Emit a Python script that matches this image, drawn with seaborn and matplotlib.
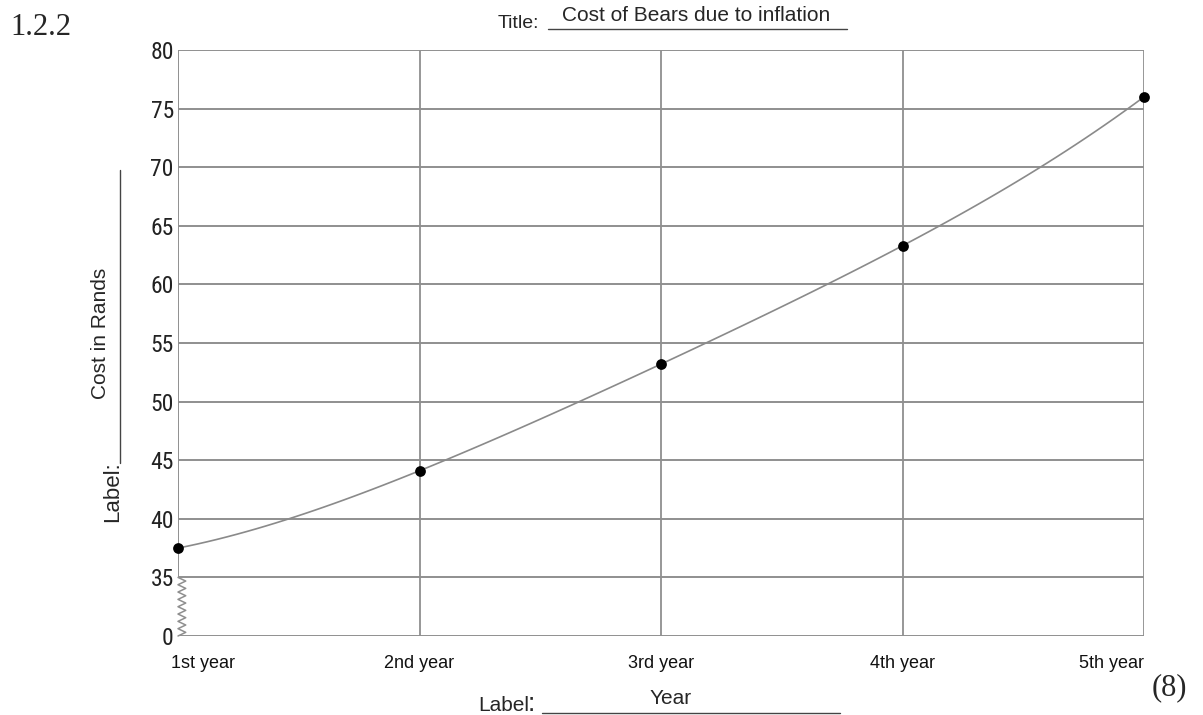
import warnings
warnings.filterwarnings("ignore")
import numpy as np
import pandas as pd
import matplotlib as mpl
mpl.use('Agg')
import matplotlib.pyplot as plt
import matplotlib.transforms as mtransforms
from matplotlib.lines import Line2D
from matplotlib import font_manager
import seaborn as sns

#========================================================================================
# data
years = ['1st year', '2nd year', '3rd year', '4th year', '5th year']
cost = [37.5, 44.1, 53.2, 63.3, 76.0]
y_ticks = [35, 40, 45, 50, 55, 60, 65, 70, 75, 80]
# the axis is broken between 0 and 35; "0" sits one grid step below 35
y_zero_pos = 30

df = pd.DataFrame({'pos': np.arange(len(years)), 'cost': cost})

#========================================================================================
sns.set_style('white')
plt.rcParams['font.family'] = ['Liberation Sans', 'DejaVu Sans']

# narrow face for the y numbers, if one is around
names = {f.name for f in font_manager.fontManager.ttflist}
narrow = 'Liberation Sans'
for cand in ['Arial Narrow', 'Liberation Sans Narrow', 'Roboto Condensed', 'Archivo Narrow',
             'PT Sans Narrow', 'Pragati Narrow', 'Open Sans Condensed']:
    if cand in names:
        narrow = cand
        break

grid_col = '#8f8f8f'

fig = plt.figure(figsize=(12.03, 7.15), dpi=100)
ax = fig.add_axes([178/1203, 1-636/715, (1144-178)/1203, (636-50)/715])

# grid
for yv in [y_zero_pos] + y_ticks:
    ax.axhline(yv, color=grid_col, lw=1.4, zorder=1)
for i in range(1, len(years)):
    ax.axvline(i, color=grid_col, lw=1.3, zorder=1)
# first vertical only above the break
ax.axvline(0, ymin=(35 - y_zero_pos)/(80 - y_zero_pos), ymax=1, color=grid_col, lw=1.4, zorder=1)

# zigzag break between 0 and 35
trans = mtransforms.blended_transform_factory(ax.transAxes, ax.transData)
n_zz = 17
zz_y = np.linspace(y_zero_pos, 35, n_zz)
zz_x = np.where(np.arange(n_zz) % 2 == 0, 0.0, 0.008)
zz_x[0] = 0.0
zz_x[-1] = 0.0
ax.plot(zz_x, zz_y, color=grid_col, lw=1.1, transform=trans, clip_on=False, zorder=1)

# curve and points
sns.regplot(data=df, x='pos', y='cost', order=4, ci=None, scatter=False,
            line_kws=dict(color='#8a8a8a', lw=1.2, zorder=2), ax=ax)
sns.scatterplot(data=df, x='pos', y='cost', color='black', s=60, edgecolor='black',
                linewidth=0, zorder=5, clip_on=False, ax=ax)

ax.set_xlim(0, len(years) - 1)
ax.set_ylim(y_zero_pos, 80)
for s in ax.spines.values():
    s.set_visible(False)
ax.set_xlabel('')
ax.set_ylabel('')

ax.set_yticks([y_zero_pos] + y_ticks)
ax.set_yticklabels(['0'] + [str(v) for v in y_ticks], fontsize=17,
                   fontfamily=narrow, color='#222222')
ax.set_xticks(range(len(years)))
ax.set_xticklabels(years, fontsize=13, color='#111111')
ax.tick_params(axis='y', length=0, pad=3)
ax.tick_params(axis='x', length=0, pad=14)
xl = ax.get_xticklabels()
xl[0].set_ha('left')
xl[0].set_transform(xl[0].get_transform() + mtransforms.ScaledTranslation(-5/72, 0, fig.dpi_scale_trans))
xl[-1].set_ha('right')

# worksheet texts
fig.text(10/1203, 1-35/715, '1.2.2', fontsize=22, fontfamily='Liberation Serif', va='baseline')
fig.text(498/1203, 1-28/715, 'Title:', fontsize=14, va='baseline')
fig.text(562/1203, 1-21/715, 'Cost of Bears due to inflation', fontsize=15, va='baseline')
fig.add_artist(Line2D([548/1203, 847/1203], [1-29/715, 1-29/715], color='#444444', lw=1.0))

fig.text(113/1203, 1-492/715, 'Label:', fontsize=16, rotation=90, ha='center', va='center')
fig.text(100/1203, 1-333/715, 'Cost in Rands', fontsize=15, rotation=90, ha='center', va='center')
fig.add_artist(Line2D([120/1203, 120/1203], [1-170/715, 1-463/715], color='#444444', lw=1.0))

fig.text(478/1203, 1-711/715, 'Label', fontsize=15, va='baseline')
fig.text(528/1203, 1-711/715, ':', fontsize=19, va='baseline')
fig.text(671/1203, 1-704/715, 'Year', fontsize=15, ha='center', va='baseline')
fig.add_artist(Line2D([542/1203, 840/1203], [1-713/715, 1-713/715], color='#444444', lw=1.0))

fig.text(1152/1203, 1-688/715, '(8)', fontsize=22, fontfamily='Liberation Serif', va='center')

plt.savefig('out.png', dpi=100)
